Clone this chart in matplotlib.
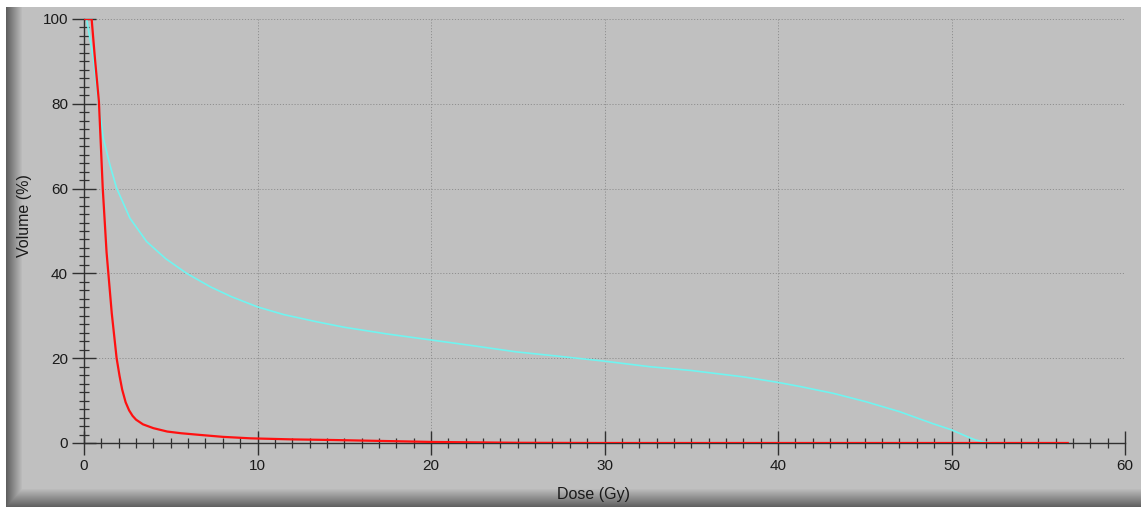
import numpy as np
import matplotlib
matplotlib.use("Agg")
import matplotlib.pyplot as plt
from matplotlib.ticker import MultipleLocator

plt.rcParams['font.family'] = ['Liberation Sans', 'DejaVu Sans']

# dose-volume curves
cyan_dose = [0.15, 0.54, 0.83, 1.11, 1.5, 1.88, 2.65, 3.61, 4.7, 5.92, 7.3, 8.5,
             10.0, 11.5, 13.4, 15.0, 17.5, 20.0, 22.5, 24.9, 27.5, 30.0, 32.6,
             35.0, 38.0, 40.0, 41.3, 43.2, 45.1, 47.0, 48.9, 50.0, 50.9, 51.4, 51.9, 52.5]
cyan_vol = [100.0, 90.7, 80.5, 71.9, 65.5, 60.1, 53.0, 47.5, 43.5, 40.0, 36.8, 34.5,
            32.1, 30.3, 28.6, 27.3, 25.7, 24.3, 22.9, 21.5, 20.4, 19.3, 18.0,
            17.1, 15.6, 14.3, 13.3, 11.7, 9.7, 7.4, 4.6, 3.1, 1.5, 0.7, 0.2, 0.0]

red_dose = [0.0, 0.44, 0.63, 0.86, 1.08, 1.3, 1.6, 1.88, 2.05, 2.2, 2.4, 2.6,
            2.8, 3.0, 3.4, 4.0, 4.8, 5.6, 6.7, 8.0, 9.6, 12.0, 14.4, 18.2, 20.0,
            25.0, 30.0, 40.0, 50.0, 56.7]
red_vol = [100.0, 100.0, 90.7, 80.5, 60.1, 45.0, 30.6, 20.0, 15.8, 12.6, 9.6, 7.7,
           6.4, 5.5, 4.4, 3.5, 2.7, 2.3, 1.9, 1.45, 1.1, 0.85, 0.7, 0.4, 0.25,
           0.05, 0.0, 0.0, 0.0, 0.0]

x_ticks = [0, 10, 20, 30, 40, 50, 60]
y_ticks = [0, 20, 40, 60, 80, 100]

W, H = 1141, 507
fig = plt.figure(figsize=(W / 100, H / 100), dpi=100, facecolor='white')

# grey panel with shaded left and bottom edges
bg = np.full((H, W), 192.0)
cols = np.arange(W)
rows = np.arange(H)
left = (cols >= 6) & (cols < 22)
bg[:, left] = np.minimum(bg[:, left], 95 + (cols[left] - 6) / 16 * 97)
bot = rows >= 488
fade = 192 - (rows[bot] - 488) / 19 * 100
bg[bot, :] = np.minimum(bg[bot, :], fade[:, None])
bg[:7, :] = 255
bg[:, :6] = 255
bg_ax = fig.add_axes([0, 0, 1, 1], zorder=-1)
bg_ax.imshow(np.dstack([bg, bg, bg]) / 255, aspect='auto', extent=(0, 1, 0, 1))
bg_ax.axis('off')

ax = fig.add_axes([84 / W, 64 / H, (1125 - 84) / W, (443 - 19) / H])
ax.set_facecolor('none')

ax.plot(cyan_dose, cyan_vol, color='#70f4f0', lw=1.2, zorder=3)
ax.plot(red_dose, red_vol, color='#ff1010', lw=1.6, zorder=4)

ax.set_xlim(0, 60)
ax.set_ylim(0, 100)
ax.set_xticks(x_ticks)
ax.set_yticks(y_ticks)
ax.xaxis.set_minor_locator(MultipleLocator(1))
ax.yaxis.set_minor_locator(MultipleLocator(2))

for s in ['top', 'right']:
    ax.spines[s].set_visible(False)
for s in ['left', 'bottom']:
    ax.spines[s].set_color('#303030')
    ax.spines[s].set_linewidth(1.0)

ax.tick_params(which='major', direction='inout', length=17, width=1.0,
               color='#303030', labelsize=11, labelcolor='#1a1a1a', pad=3)
ax.tick_params(which='minor', direction='inout', length=6.5, width=0.9,
               color='#303030')
ax.grid(True, which='major', color='#909090', lw=0.7, linestyle=(0, (1.2, 1.8)))
ax.set_axisbelow(True)

fig.text(594 / W, (H - 494) / H, 'Dose (Gy)', ha='center', va='center',
         fontsize=11.5, color='#1a1a1a')
fig.text(25 / W, (H - 216) / H, 'Volume (%)', ha='center', va='center',
         rotation=90, fontsize=11.5, color='#1a1a1a')

fig.savefig('out.png', dpi=100, facecolor='white')
